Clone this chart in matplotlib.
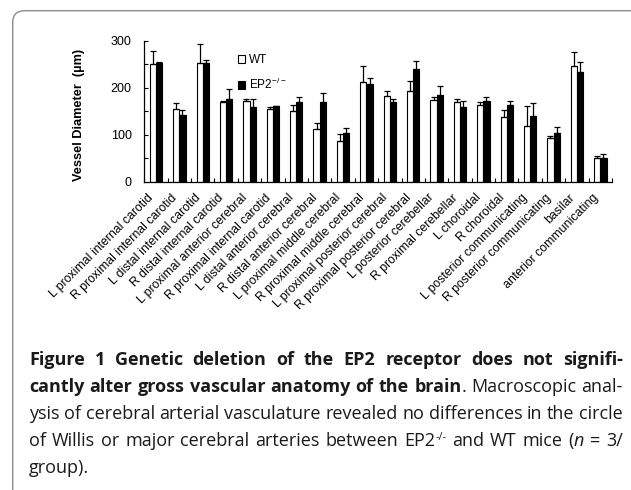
import matplotlib
matplotlib.use('Agg')
import matplotlib.pyplot as plt
import numpy as np
from matplotlib.patches import FancyBboxPatch, Patch
from matplotlib.transforms import IdentityTransform

categories = [
    "L proximal internal carotid", "R proximal internal carotid",
    "L distal internal carotid", "R distal internal carotid",
    "L proximal anterior cerebral", "R proximal internal carotid",
    "L distal anterior cerebral", "R distal anterior cerebral",
    "L proximal middle cerebral", "R proximal middle cerebral",
    "L proximal posterior cerebral", "R proximal posterior cerebral",
    "L posterior cerebellar", "R proximal cerebellar",
    "L choroidal", "R choroidal",
    "L posterior communicating", "R posterior communicating",
    "basilar", "anterior communicating",
]
wt = [251, 154, 252, 169, 172, 154, 150, 113, 87, 213, 182, 193, 173, 169, 163, 137, 118, 93, 247, 50]
wt_err = [28, 14, 42, 2, 5, 4, 13, 12, 14, 33, 12, 21, 7, 6, 6, 15, 42, 5, 30, 5]
ep2 = [252, 142, 252, 177, 158, 160, 170, 170, 103, 208, 170, 239, 184, 159, 172, 164, 139, 103, 233, 50]
ep2_err = [3, 10, 7, 20, 18, 2, 11, 18, 12, 13, 6, 18, 19, 12, 8, 8, 28, 13, 21, 9]
y_major = [0, 100, 200, 300]
y_minor = [50, 150, 250]
legend_labels = ["WT", r"EP2$^{\mathregular{-/-}}$"]
y_label = "Vessel Diameter  (\u00b5m)"

caption_lines = [
    [[("Figure", "b")], [("1", "b")], [("Genetic", "b")], [("deletion", "b")], [("of", "b")],
     [("the", "b")], [("EP2", "b")], [("receptor", "b")], [("does", "b")], [("not", "b")],
     [("signifi-", "b")]],
    [[("cantly", "b")], [("alter", "b")], [("gross", "b")], [("vascular", "b")], [("anatomy", "b")],
     [("of", "b")], [("the", "b")], [("brain", "b"), (".", "r")], [("Macroscopic", "r")], [("anal-", "r")]],
    [[(w, "r")] for w in "ysis of cerebral arterial vasculature revealed no differences in the circle".split()],
    [[(w, "r")] for w in "of Willis or major cerebral arteries between".split()]
    + [[("EP2", "r"), ("-/-", "sup")], [("and", "r")], [("WT", "r")], [("mice", "r")],
       [("(", "r"), ("n", "i")], [("=", "r")], [("3/", "r")]],
    [[("group).", "r")]],
]

W, H = 631, 490
plt.rcParams['font.family'] = ['Liberation Sans', 'DejaVu Sans']
plt.rcParams['mathtext.fontset'] = 'custom'
plt.rcParams['mathtext.rm'] = 'Liberation Sans'

fig = plt.figure(figsize=(W / 100, H / 100), dpi=100)
fig.patch.set_facecolor('white')

# rounded frame (cropped at right/bottom)
box = FancyBboxPatch((12.7, -30), 700, (H - 10.7) + 30,
                     boxstyle="round,pad=0,rounding_size=12",
                     transform=IdentityTransform(), facecolor='none',
                     edgecolor='#8c8c8c', linewidth=1.0)
fig.patches.append(box)

ax_l, ax_r, ax_top, ax_bot = 144.3, 612.0, 40.7, 181.7
ax = fig.add_axes([ax_l / W, 1 - ax_bot / H, (ax_r - ax_l) / W, (ax_bot - ax_top) / H])

x = np.arange(len(categories))
bw = 0.265
zeros = np.zeros(len(x))
ekw = dict(elinewidth=0.9, capthick=0.9, ecolor='black')
ax.bar(x - bw / 2, wt, bw, color='white', edgecolor='black', linewidth=0.8,
       yerr=[zeros, wt_err], capsize=2.0, error_kw=ekw, zorder=2)
ax.bar(x + bw / 2, ep2, bw, color='black', edgecolor='black', linewidth=0.8,
       yerr=[zeros, ep2_err], capsize=2.0, error_kw=ekw, zorder=2)

ax.set_xlim(-0.5, len(x) - 0.5)
ax.set_ylim(0, 300)
for s in ['top', 'right']:
    ax.spines[s].set_visible(False)
for s in ['left', 'bottom']:
    ax.spines[s].set_linewidth(0.9)

ax.set_yticks(y_major)
ax.set_yticks(y_minor, minor=True)
ax.tick_params(axis='y', which='both', direction='in', length=3, width=0.8, pad=9, labelsize=9)

ax.set_xticks(x)
ax.set_xticklabels(categories, rotation=45, ha='right', va='top', fontsize=8.8)
ax.set_xticks(np.arange(-0.5, len(x), 1.0), minor=True)
ax.tick_params(axis='x', which='major', length=0, pad=7.2)
ax.tick_params(axis='x', which='minor', direction='in', length=3, width=0.8)

ax.set_ylabel(y_label, fontsize=9.2, fontweight='bold')
ax.yaxis.set_label_coords(-0.127, 0.473)

handles = [Patch(facecolor='white', edgecolor='black', linewidth=0.8),
           Patch(facecolor='black', edgecolor='black', linewidth=0.8)]
ax.legend(handles, legend_labels, frameon=False, fontsize=8.5, loc='upper left',
          bbox_to_anchor=(0.2, 0.905), handlelength=0.6, handleheight=0.6,
          handletextpad=0.35, labelspacing=0.9, borderaxespad=0, borderpad=0)

# caption, justified
renderer = fig.canvas.get_renderer()
cap_font = ['Open Sans', 'DejaVu Sans']
base_size = 13.0
cap_left, cap_right = 29.0, 623.0
baselines = [365.0 + 26.9 * i for i in range(5)]


def piece_kw(style, size):
    kw = dict(family=cap_font, fontsize=size, color='#1a1a1a')
    if style == 'b':
        kw['fontweight'] = 'bold'
    elif style == 'i':
        kw['fontstyle'] = 'italic'
    elif style == 'sup':
        kw['fontsize'] = size * 0.6
    return kw


def width_of(text, kw):
    t = fig.text(0, 0, text, **kw)
    w = t.get_window_extent(renderer).width
    t.remove()
    return w


def word_width(word, size):
    return sum(width_of(txt, piece_kw(st, size)) for txt, st in word)


def space_width(size):
    kw = piece_kw('r', size)
    return width_of("a a", kw) - width_of("aa", kw)


sw = space_width(base_size)
natural = []
for line in caption_lines[:-1]:
    natural.append(sum(word_width(w, base_size) for w in line) + sw * (len(line) - 1))
size = base_size
if max(natural) > (cap_right - cap_left):
    size = base_size * (cap_right - cap_left) / max(natural) * 0.995

sw = space_width(size)
for li, line in enumerate(caption_lines):
    widths = [word_width(w, size) for w in line]
    last = li == len(caption_lines) - 1
    if last or len(line) < 2:
        gap = sw
    else:
        gap = (cap_right - cap_left - sum(widths)) / (len(line) - 1)
    xpos = cap_left
    ybase = baselines[li]
    for word, ww in zip(line, widths):
        xp = xpos
        for txt, st in word:
            kw = piece_kw(st, size)
            dy = 6.0 if st == 'sup' else 0.0
            fig.text(xp / W, 1 - (ybase - dy) / H, txt, ha='left', va='baseline', **kw)
            xp += width_of(txt, kw)
        xpos += ww + gap

fig.savefig('out.png', dpi=100, facecolor='white')
